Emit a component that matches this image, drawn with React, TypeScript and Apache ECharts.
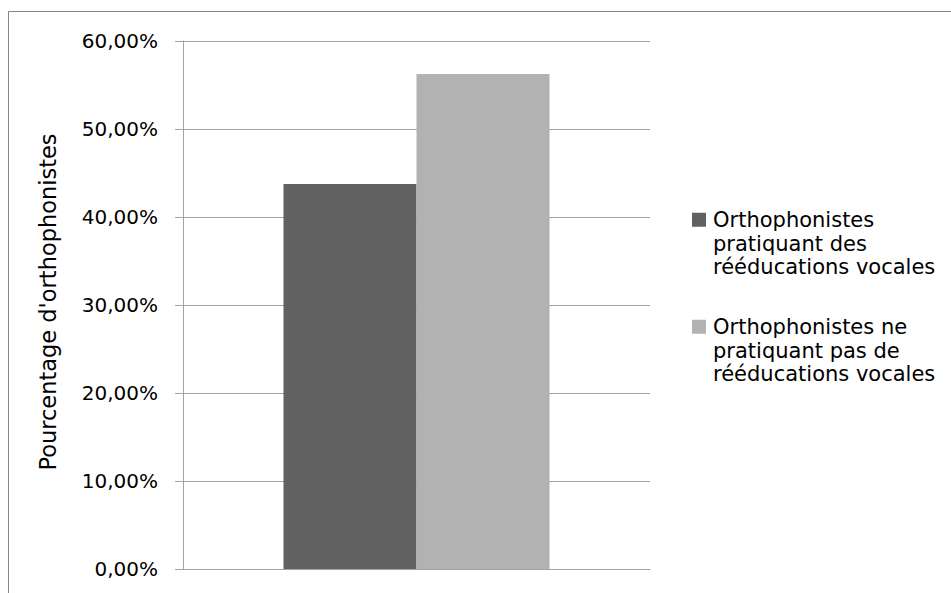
import React, { useEffect, useRef } from "react";
import * as echarts from "echarts";

const categories = [""];
const seriesNames = [
  "Orthophonistes\npratiquant des\nrééducations vocales",
  "Orthophonistes ne\npratiquant pas de\nrééducations vocales",
];
const valuesPratiquant = [43.75];
const valuesNonPratiquant = [56.25];
const yAxisTitle = "Pourcentage d'orthophonistes";
const yMin = 0;
const yMax = 60;
const yInterval = 10;

const FONT = "DejaVu Sans";
const GRID_COLOR = "#a3a3a3";

export default function App() {
  const ref = useRef<HTMLDivElement>(null);
  useEffect(() => {
    document.body.style.margin = "0";
    if (!ref.current) return;
    const chart = echarts.init(ref.current, undefined, { renderer: "svg" });
    const LH = 23.5;
    const H = LH * 3;
    // tall legend icon whose visible square sits next to the first text line
    const icon =
      "path://M0,0L0.001,0L0,0.001Z M0,4.5H14V18.5H0Z M16,70.5L16.001,70.5L16,70.499Z";
    chart.setOption({
      animation: false,
      backgroundColor: "#fff",
      textStyle: { fontFamily: FONT },
      grid: { left: 183, top: 41, width: 467, height: 528, containLabel: false },
      xAxis: {
        type: "category",
        data: categories,
        axisLine: { show: true, lineStyle: { color: GRID_COLOR, width: 1 } },
        axisTick: { show: false },
        axisLabel: { show: false },
      },
      yAxis: {
        type: "value",
        min: yMin,
        max: yMax,
        interval: yInterval,
        name: yAxisTitle,
        nameLocation: "middle",
        nameGap: 124,
        nameTextStyle: { fontFamily: FONT, fontSize: 22.5, color: "#000", padding: [0, 0, 0, 6] },
        axisLine: { show: true, lineStyle: { color: GRID_COLOR, width: 1 } },
        axisTick: { show: true, length: 8, lineStyle: { color: GRID_COLOR } },
        splitLine: { show: true, lineStyle: { color: GRID_COLOR, width: 1 } },
        axisLabel: {
          margin: 25,
          fontFamily: FONT,
          fontSize: 20,
          color: "#000",
          formatter: (v: number) => v.toFixed(2).replace(".", ",") + "%",
        },
      },
      legend: {
        data: seriesNames,
        orient: "vertical",
        left: 692,
        top: 220 - LH / 2,
        padding: 0,
        itemGap: 107 - H,
        itemWidth: 16,
        itemHeight: H,
        icon,
        symbolKeepAspect: true,
        itemStyle: { borderWidth: 0 },
        textStyle: {
          fontFamily: FONT,
          fontSize: 21,
          lineHeight: LH,
          color: "#000",
        },
      },
      graphic: [
        {
          type: "rect",
          silent: true,
          shape: { x: 8.5, y: 11.5, width: 2000, height: 2000 },
          style: { fill: "none", stroke: "#878787", lineWidth: 1 },
        },
      ],
      series: [
        {
          name: seriesNames[0],
          type: "bar",
          data: valuesPratiquant,
          barWidth: 133,
          barGap: "0%",
          itemStyle: { color: "#616161" },
        },
        {
          name: seriesNames[1],
          type: "bar",
          data: valuesNonPratiquant,
          barWidth: 133,
          barGap: "0%",
          itemStyle: { color: "#b2b2b2" },
        },
      ],
    });
    return () => chart.dispose();
  }, []);
  return <div ref={ref} style={{ width: 951, height: 593 }} />;
}
